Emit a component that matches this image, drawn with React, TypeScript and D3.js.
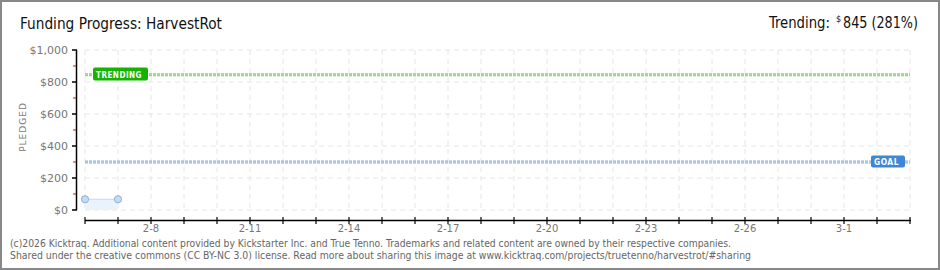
import React from "react";
import * as d3 from "d3";

const W = 940;
const H = 270;

const dates = ["2026-02-06", "2026-02-07"];
const pledged = [67, 67];
const startDate = "2026-02-06";
const endDate = "2026-03-03";
const labelEvery = 3;
const labelStart = "2026-02-08";
const yTicks = [0, 200, 400, 600, 800, 1000];
const yMinorTicks = [100, 300, 500, 700, 900];
const goal = 300;
const trending = 845;
const trendingPct = 281;
const title = "Funding Progress: HarvestRot";
const footer1 =
  "(c)2026 Kicktraq. Additional content provided by Kickstarter Inc. and True Tenno. Trademarks and related content are owned by their respective companies.";
const footer2 =
  "Shared under the creative commons (CC BY-NC 3.0) license. Read more about sharing this image at www.kicktraq.com/projects/truetenno/harvestrot/#sharing";

const parse = d3.utcParse("%Y-%m-%d");

export default function App() {
  const x = d3
    .scaleUtc()
    .domain([parse(startDate)!, parse(endDate)!])
    .range([85, 910]);
  const y = d3.scaleLinear().domain([0, 1000]).range([210, 50]);

  const days = d3.utcDay.range(parse(startDate)!, d3.utcDay.offset(parse(endDate)!, 1));
  const ls = parse(labelStart)!;
  const labelDays = days.filter(
    (d) => d >= ls && Math.round((+d - +ls) / 86400000) % labelEvery === 0
  );
  const fmt = (d: Date) => `${d.getUTCMonth() + 1}-${d.getUTCDate()}`;

  const pts = dates.map((d, i) => ({ x: x(parse(d)!), y: y(pledged[i]) }));
  const area = d3
    .area<{ x: number; y: number }>()
    .x((d) => d.x)
    .y0(y(0))
    .y1((d) => d.y);
  const line = d3
    .line<{ x: number; y: number }>()
    .x((d) => d.x)
    .y((d) => d.y);

  const gray = "#777";
  const font = "'DejaVu Sans', sans-serif";
  const condensed = "'DejaVu Sans Condensed', 'DejaVu Sans', sans-serif";

  const tY = y(trending);
  const gY = y(goal);

  return (
    <svg
      width={W}
      height={H}
      style={{ position: "absolute", left: 0, top: 0, background: "#fff" }}
      fontFamily={font}
    >
      <rect x={1} y={1} width={W - 2} height={H - 2} fill="#fff" stroke="#888" strokeWidth={2} />

      <text x={20} y={29} fontSize={15} fill="#111" textLength={202} lengthAdjust="spacingAndGlyphs" fontFamily={condensed} fontWeight={300}>
        {title}
      </text>
      <text x={769} y={28} fontSize={15} fill="#111" fontFamily={condensed} textLength={61} lengthAdjust="spacingAndGlyphs">
        Trending:
      </text>
      <text x={836} y={22} fontSize={9} fill="#111" fontFamily={condensed}>
        $
      </text>
      <text x={843} y={28} fontSize={15} fill="#111" fontFamily={condensed} textLength={75} lengthAdjust="spacingAndGlyphs">
        {`${trending} (${trendingPct}%)`}
      </text>

      {/* grid */}
      {days.map((d, i) => (
        <line key={"vg" + i} x1={x(d)} x2={x(d)} y1={50} y2={210} stroke="#e6e6e6" strokeDasharray="5,4" />
      ))}
      {yTicks.map((t) => (
        <line key={"hg" + t} x1={85} x2={910} y1={y(t)} y2={y(t)} stroke="#e6e6e6" strokeDasharray="5,4" />
      ))}

      {/* y axis */}
      <line x1={76.5} x2={76.5} y1={50} y2={210} stroke="#000" strokeWidth={1.5} />
      {yTicks.map((t) => (
        <g key={"yt" + t}>
          <line x1={72} x2={77} y1={y(t)} y2={y(t)} stroke="#000" strokeWidth={1.5} />
          <text x={68} y={y(t) + 4} fontSize={11} fill={gray} textAnchor="end">
            {d3.format("$,")(t)}
          </text>
        </g>
      ))}
      {yMinorTicks.map((t) => (
        <line key={"ym" + t} x1={73} x2={76} y1={y(t)} y2={y(t)} stroke="#e00" strokeWidth={1} />
      ))}
      <text
        transform={`translate(26,127) rotate(-90)`}
        fontSize={9}
        fill={gray}
        textAnchor="middle"
        letterSpacing={1}
      >
        PLEDGED
      </text>

      {/* x axis */}
      <line x1={85} x2={911} y1={220.5} y2={220.5} stroke="#000" strokeWidth={1.5} />
      {days.map((d, i) => (
        <line key={"xt" + i} x1={x(d)} x2={x(d)} y1={217} y2={224} stroke="#000" strokeWidth={1.2} />
      ))}
      {labelDays.map((d, i) => (
        <text key={"xl" + i} x={x(d)} y={232} fontSize={10} fill={gray} textAnchor="middle">
          {fmt(d)}
        </text>
      ))}

      {/* data */}
      <path d={area(pts)!} fill="#eaf2fb" />
      <path d={line(pts)!} fill="none" stroke="#c5d9f0" strokeWidth={1} />
      {pts.map((p, i) => (
        <circle key={"pt" + i} cx={p.x} cy={p.y} r={3.6} fill="#c5daf3" stroke="#8eb1dc" strokeWidth={1} />
      ))}

      {/* trending line */}
      <line x1={85} x2={910} y1={tY} y2={tY} stroke="#7cd06c" strokeWidth={3} strokeDasharray="3,1" />
      <line x1={85} x2={910} y1={tY} y2={tY} stroke="#b5e6aa" strokeWidth={1} strokeDasharray="3,1" />
      <rect x={93} y={67.5} width={55} height={13} rx={2} fill="#13b300" />
      <text x={96} y={77.5} fontSize={9} fill="#fff" fontWeight="bold" letterSpacing={0.6} textLength={46} lengthAdjust="spacingAndGlyphs">
        TRENDING
      </text>

      {/* goal line */}
      <line x1={85} x2={910} y1={gY} y2={gY} stroke="#8db0da" strokeWidth={3} strokeDasharray="3,1" />
      <line x1={85} x2={910} y1={gY} y2={gY} stroke="#c6d8ef" strokeWidth={1} strokeDasharray="3,1" />
      <rect x={871} y={155.5} width={34} height={12} rx={2} fill="#3d87d6" />
      <text x={874} y={165} fontSize={9} fill="#fff" fontWeight="bold" letterSpacing={0.6} textLength={25} lengthAdjust="spacingAndGlyphs">
        GOAL
      </text>

      {/* footer */}
      <text x={10} y={247} fontSize={10} fill="#666" textLength={721} lengthAdjust="spacingAndGlyphs">
        {footer1}
      </text>
      <text x={10} y={259} fontSize={10} fill="#666" textLength={741} lengthAdjust="spacingAndGlyphs">
        {footer2}
      </text>
    </svg>
  );
}
